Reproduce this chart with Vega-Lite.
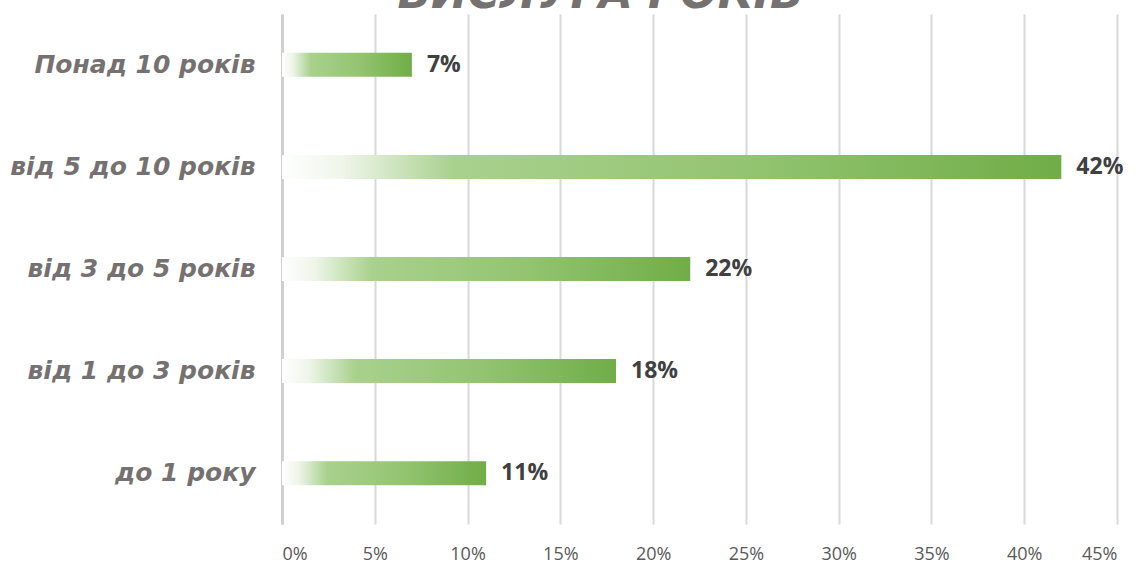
{
  "$schema": "https://vega.github.io/schema/vega-lite/v6.json",
  "autosize": "none",
  "width": 835,
  "height": 510,
  "padding": {"left": 282, "top": 14, "right": 24, "bottom": 39},
  "background": "white",
  "title": {
    "text": "ВИСЛУГА РОКІВ",
    "font": "DejaVu Sans",
    "fontSize": 44,
    "fontWeight": "bold",
    "fontStyle": "italic",
    "color": "#767171",
    "anchor": "middle",
    "frame": "group",
    "baseline": "alphabetic",
    "offset": 0,
    "dx": -99,
    "dy": 38
  },
  "data": {
    "values": [
      {"category": "Понад 10 років", "order": 1, "value": 0.07},
      {"category": "від 5 до 10 років", "order": 2, "value": 0.42},
      {"category": "від 3 до 5 років", "order": 3, "value": 0.22},
      {"category": "від 1 до 3 років", "order": 4, "value": 0.18},
      {"category": "до 1 року", "order": 5, "value": 0.11}
    ]
  },
  "encoding": {
    "y": {
      "field": "category",
      "type": "nominal",
      "sort": {"field": "order", "order": "ascending"},
      "scale": {"paddingInner": 0.765, "paddingOuter": 0.38},
      "axis": {
        "title": null,
        "ticks": false,
        "domain": true,
        "domainColor": "#d0d0d0",
        "domainWidth": 3,
        "labelFont": "DejaVu Sans",
        "labelFontSize": 25,
        "labelFontWeight": "bold",
        "labelFontStyle": "italic",
        "labelColor": "#767171",
        "labelPadding": 27,
        "labelLimit": 400
      }
    },
    "x": {
      "field": "value",
      "type": "quantitative",
      "scale": {"domain": [0, 0.45], "nice": false},
      "axis": {
        "title": null,
        "values": [0, 0.05, 0.1, 0.15, 0.2, 0.25, 0.3, 0.35, 0.4, 0.45],
        "format": ".0%",
        "grid": true,
        "gridColor": "#d9d9d9",
        "gridWidth": 2,
        "ticks": false,
        "domain": false,
        "labelFont": "Open Sans",
        "labelFontSize": 18,
        "labelColor": "#595959",
        "labelPadding": 21
      }
    }
  },
  "layer": [
    {
      "mark": {
        "type": "bar",
        "color": {
          "gradient": "linear",
          "x1": 0, "y1": 0, "x2": 1, "y2": 0,
          "stops": [
            {"offset": 0, "color": "#ffffff"},
            {"offset": 0.08, "color": "#eef5e9"},
            {"offset": 0.22, "color": "#a9d18e"},
            {"offset": 0.6, "color": "#93c471"},
            {"offset": 1, "color": "#70ad47"}
          ]
        }
      }
    },
    {
      "mark": {
        "type": "text",
        "align": "left",
        "dx": 15,
        "font": "Open Sans",
        "fontSize": 23,
        "fontWeight": "bold",
        "color": "#404040"
      },
      "encoding": {
        "text": {"field": "value", "type": "quantitative", "format": ".0%"}
      }
    }
  ],
  "config": {"view": {"stroke": null}}
}
